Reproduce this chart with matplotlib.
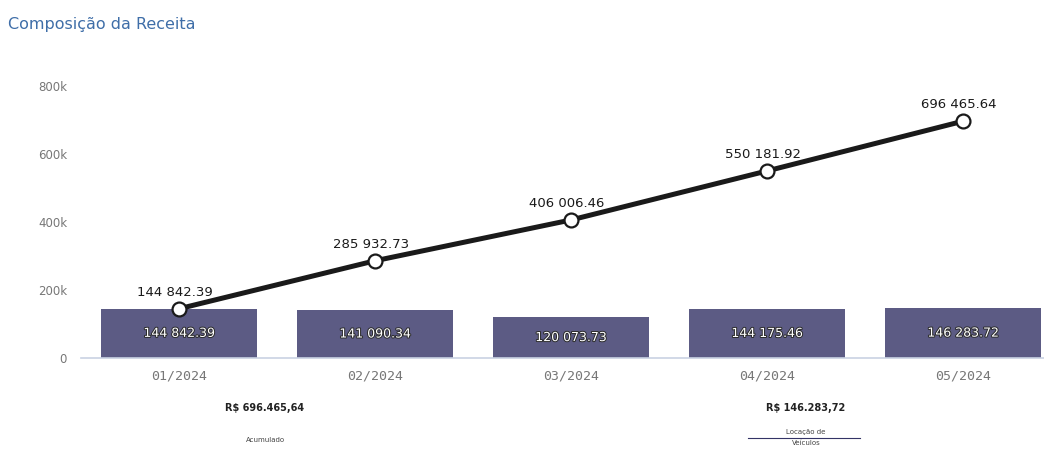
import matplotlib
matplotlib.use("Agg")
import matplotlib.pyplot as plt
import matplotlib.patheffects as pe
import numpy as np

meses = ["01/2024", "02/2024", "03/2024", "04/2024", "05/2024"]
receita_mensal = [144842.39, 141090.34, 120073.73, 144175.46, 146283.72]
receita_acumulada = [144842.39, 285932.73, 406006.46, 550181.92, 696465.64]
yticks = [0, 200000, 400000, 600000, 800000]
ytick_labels = ["0", "200k", "400k", "600k", "800k"]


def fmt(v):
    return f"{v:,.2f}".replace(",", " ")


W, H = 1044, 449
fig = plt.figure(figsize=(W / 100, H / 100), dpi=100)
ax = fig.add_axes([81 / W, (H - 358) / H, 980 / W, 272 / H])

x = np.arange(len(meses))
bar_color = "#5c5b84"
ax.bar(x, receita_mensal, width=0.8, color=bar_color, zorder=2)

for xi, v in zip(x, receita_mensal):
    ax.text(xi, v / 2, fmt(v), ha="center", va="center", color="white",
            fontsize=9, zorder=5,
            path_effects=[pe.withStroke(linewidth=1.4, foreground="#2a2a2a")])

ax.plot(x, receita_acumulada, color="#1a1a1a", lw=3.6, marker="o",
        markersize=10, markerfacecolor="white", markeredgecolor="#1a1a1a",
        markeredgewidth=1.6, zorder=4, clip_on=False)

for xi, v in zip(x, receita_acumulada):
    ax.annotate(fmt(v), (xi, v), xytext=(-3, 7), textcoords="offset points",
                ha="center", va="bottom", fontsize=9.5, color="#1a1a1a",
                zorder=6)

ax.set_xlim(-0.5, 4.5)
ax.set_ylim(0, 800000)
ax.set_yticks(yticks)
ax.set_yticklabels(ytick_labels)
ax.set_xticks(x)
ax.set_xticklabels(meses)
ax.tick_params(axis="y", length=0, pad=10, labelsize=8.5, labelcolor="#777777")
ax.tick_params(axis="x", length=0, pad=8, labelsize=9.5, labelcolor="#777777")
for lbl in ax.get_xticklabels():
    lbl.set_fontfamily("DejaVu Sans Mono")

for s in ["top", "right", "left"]:
    ax.spines[s].set_visible(False)
ax.spines["bottom"].set_color("#c9d2e3")
ax.spines["bottom"].set_linewidth(1.2)
ax.set_facecolor("none")

fig.text(8 / W, 1 - 25 / H, "Composição da Receita", fontsize=11.5,
         color="#3f6ea8", ha="left", va="center")

fig.text(265 / W, 1 - 408 / H, "R$ 696.465,64", fontsize=7, fontweight="bold",
         color="#222222", ha="center", va="center")
fig.text(265 / W, 1 - 440 / H, "Acumulado", fontsize=5, color="#444444",
         ha="center", va="center")
fig.text(806 / W, 1 - 408 / H, "R$ 146.283,72", fontsize=7, fontweight="bold",
         color="#222222", ha="center", va="center")
fig.text(806 / W, 1 - 432 / H, "Locação de", fontsize=5, color="#444444",
         ha="center", va="center")
fig.text(806 / W, 1 - 443 / H, "Veículos", fontsize=5, color="#444444",
         ha="center", va="center")
fig.add_artist(plt.Line2D([748 / W, 860 / W], [1 - 438 / H, 1 - 438 / H],
                          color="#333366", lw=0.8))

fig.savefig("out.png", dpi=100)
